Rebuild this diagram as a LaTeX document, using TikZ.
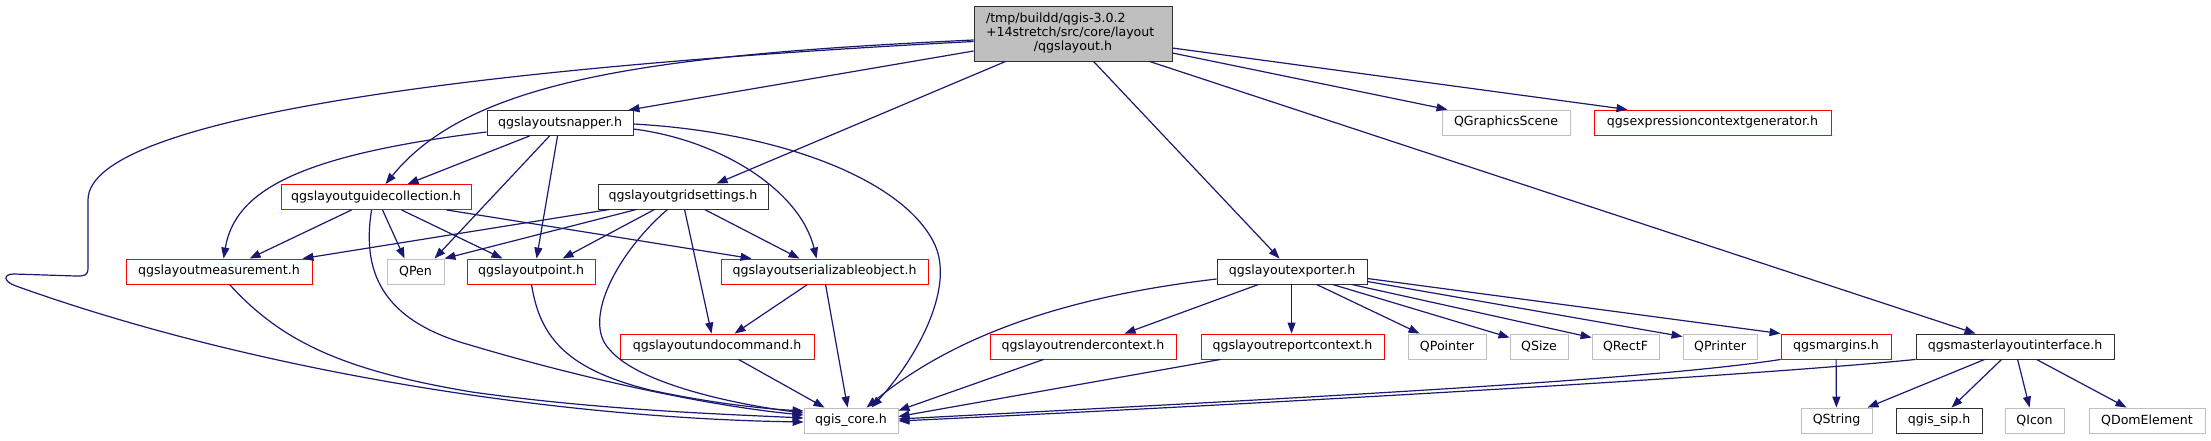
\documentclass[tikz,border=0pt]{standalone}
\usepackage{fontspec}
\setmainfont{DejaVu Sans}
\usetikzlibrary{arrows.meta}
\definecolor{edgec}{HTML}{191970}
\definecolor{extc}{HTML}{BFBFBF}
\definecolor{redc}{HTML}{FF0000}
\definecolor{darkb}{HTML}{303030}
\begin{document}
\begin{tikzpicture}[x=1pt,y=-1pt,
  box/.style={draw, minimum height=25pt, inner sep=0pt, line width=0.9pt,
    font=\fontsize{12.6}{14}\selectfont, fill=white},
  blackbox/.style={box, draw=darkb},
  redbox/.style={box, draw=redc},
  extbox/.style={box, draw=extc},
  mainbox/.style={box, draw=darkb, fill=extc},
  edge/.style={draw=edgec, line width=1.2pt, -{Triangle[length=11pt,width=8pt]}}
]
\useasboundingbox (0,0) rectangle (2211,440);

% nodes
\node[mainbox, minimum width=198pt, minimum height=55pt, align=center] (main) at (1073,33.5)
  {\makebox[174pt][l]{/tmp/buildd/qgis-3.0.2}\\\makebox[174pt][l]{+14stretch/src/core/layout}\\/qgslayout.h};
\node[blackbox, minimum width=146pt] (snapper) at (560,123) {qgslayoutsnapper.h};
\node[extbox, minimum width=128pt] (qgs) at (1506,122.5) {QGraphicsScene};
\node[redbox, minimum width=237pt] (expr) at (1712.5,122.5) {qgsexpressioncontextgenerator.h};
\node[redbox, minimum width=190pt] (guide) at (376,197) {qgslayoutguidecollection.h};
\node[blackbox, minimum width=170pt] (grid) at (683,196.5) {qgslayoutgridsettings.h};
\node[redbox, minimum width=186pt] (meas) at (219,271.5) {qgslayoutmeasurement.h};
\node[extbox, minimum width=57pt] (qpen) at (415.5,271.5) {QPen};
\node[redbox, minimum width=128pt] (point) at (531,271.5) {qgslayoutpoint.h};
\node[redbox, minimum width=207pt] (serial) at (824.5,271.5) {qgslayoutserializableobject.h};
\node[blackbox, minimum width=150pt] (exporter) at (1292,271.5) {qgslayoutexporter.h};
\node[redbox, minimum width=194pt] (undo) at (717,346.5) {qgslayoutundocommand.h};
\node[redbox, minimum width=186pt] (render) at (1083,346.5) {qgslayoutrendercontext.h};
\node[redbox, minimum width=183pt] (report) at (1292.5,346.5) {qgslayoutreportcontext.h};
\node[extbox, minimum width=78pt] (qpointer) at (1447,346.5) {QPointer};
\node[extbox, minimum width=58pt] (qsize) at (1539,346.5) {QSize};
\node[extbox, minimum width=67pt] (qrectf) at (1625.5,346.5) {QRectF};
\node[extbox, minimum width=74pt] (qprinter) at (1720,346.5) {QPrinter};
\node[redbox, minimum width=110pt] (margins) at (1836,346.5) {qgsmargins.h};
\node[blackbox, minimum width=198pt] (master) at (2015,346.5) {qgsmasterlayoutinterface.h};
\node[extbox, minimum width=94pt] (qgiscore) at (851,420.5) {qgis\_core.h};
\node[extbox, minimum width=71pt] (qstring) at (1836.5,420.5) {QString};
\node[blackbox, minimum width=86pt] (sip) at (1939,420.5) {qgis\_sip.h};
\node[extbox, minimum width=59pt] (qicon) at (2034.5,420.5) {QIcon};
\node[extbox, minimum width=116pt] (qdom) at (2147,420.5) {QDomElement};

% edges from main
\draw[edge] ([yshift=-8pt]main.west) .. controls (500,66) and (88,115) .. (88,200) -- (88,268)
  .. controls (88,276) and (84,276) .. (76,276) -- (14,274) .. controls (2,274) and (4,282) .. (16,286)
  .. controls (250,370) and (550,418) .. ([yshift=-1.5pt]qgiscore.west);
\draw[edge] ([yshift=-6.5pt]main.west) .. controls (650,55) and (470,80) .. ([xshift=105pt]guide.north west);
\draw[edge] ([yshift=-17.5pt]main.west) -- ([xshift=-5pt]snapper.north east);
\draw[edge] ([xshift=32pt]main.south west) -- ([xshift=119pt]grid.north west);
\draw[edge] ([xshift=120pt]main.south west) -- ([xshift=63pt]exporter.north west);
\draw[edge] ([yshift=-19.5pt]main.east) -- ([xshift=6pt]qgs.north west);
\draw[edge] ([yshift=-14.5pt]main.east) -- ([xshift=34pt]expr.north west);
\draw[edge] ([xshift=176pt]main.south west) -- ([xshift=60pt]master.north west);

% snapper
\draw[edge] ([xshift=43pt]snapper.south west) -- ([xshift=127pt]guide.north west);
\draw[edge] ([yshift=-9pt]snapper.west) .. controls (300,155) and (235,190) .. ([xshift=98pt]meas.north west);
\draw[edge] ([xshift=63pt]snapper.south west) -- ([xshift=48pt]qpen.north west);
\draw[edge] ([xshift=71pt]snapper.south west) -- ([xshift=70pt]point.north west);
\draw[edge] ([yshift=-6pt]snapper.east) .. controls (720,140) and (800,190) .. ([xshift=96pt]serial.north west);
\draw[edge] ([yshift=-1pt]snapper.east) .. controls (780,132) and (905,180) .. (935,245)
  .. controls (955,290) and (915,360) .. ([xshift=68pt]qgiscore.north west);

% guide collection
\draw[edge] ([xshift=71pt]guide.south west) -- ([xshift=124pt]meas.north west);
\draw[edge] ([xshift=102pt]guide.south west) -- ([xshift=18pt]qpen.north west);
\draw[edge] ([xshift=121pt]guide.south west) -- ([xshift=36pt]point.north west);
\draw[edge] ([xshift=166pt]guide.south west) -- ([xshift=31pt]serial.north west);
\draw[edge] ([xshift=91pt]guide.south west) .. controls (362,270) and (380,320) .. (470,345)
  .. controls (570,375) and (700,405) .. ([yshift=5.5pt]qgiscore.west);

% grid settings
\draw[edge] ([xshift=12pt]grid.south west) -- ([xshift=-10pt]meas.north east);
\draw[edge] ([xshift=39pt]grid.south west) -- (qpen.north east);
\draw[edge] ([xshift=57pt]grid.south west) -- ([xshift=96pt]point.north west);
\draw[edge] ([xshift=107pt]grid.south west) -- ([xshift=79pt]serial.north west);
\draw[edge] ([xshift=87pt]grid.south west) -- ([xshift=92pt]undo.north west);
\draw[edge] ([xshift=70pt]grid.south west) .. controls (620,250) and (580,320) .. (610,350)
  .. controls (640,385) and (740,405) .. ([yshift=7.5pt]qgiscore.west);

% measurement, point
\draw[edge] ([xshift=104pt]meas.south west) .. controls (280,340) and (340,370) .. (472,392)
  .. controls (600,410) and (720,414) .. ([yshift=2.5pt]qgiscore.west);
\draw[edge] ([xshift=65pt]point.south west) .. controls (540,340) and (570,370) .. (650,390)
  .. controls (720,405) and (770,409) .. ([yshift=9.5pt]qgiscore.west);

% serializable, undo
\draw[edge] ([xshift=87pt]serial.south west) -- ([xshift=115pt]undo.north west);
\draw[edge] ([xshift=105pt]serial.south west) -- ([xshift=44pt]qgiscore.north west);
\draw[edge] ([xshift=119pt]undo.south west) -- ([xshift=21pt]qgiscore.north west);

% exporter
\draw[edge] ([yshift=-7.5pt]exporter.west) .. controls (1080,295) and (960,330) .. ([xshift=63pt]qgiscore.north west);
\draw[edge] ([xshift=42pt]exporter.south west) -- ([xshift=135pt]render.north west);
\draw[edge] ([xshift=75pt]exporter.south west) -- ([xshift=91pt]report.north west);
\draw[edge] ([xshift=100pt]exporter.south west) -- ([xshift=12pt]qpointer.north west);
\draw[edge] ([xshift=116pt]exporter.south west) -- ([yshift=-4pt]qsize.north west);
\draw[edge] ([xshift=135pt]exporter.south west) -- ([yshift=-4pt]qrectf.north west);
\draw[edge] ([yshift=-10pt]exporter.east) -- ([yshift=-3pt]qprinter.north west);
\draw[edge] ([yshift=-7pt]exporter.east) -- (margins.north west);

% render, report
\draw[edge] ([xshift=54pt]render.south west) -- ([yshift=-3pt]qgiscore.north east);
\draw[edge] ([xshift=20pt]report.south west) -- ([yshift=4pt]qgiscore.east);

% margins, master
\draw[edge] (margins.south west) .. controls (1650,380) and (1300,398) .. ([yshift=1.5pt]qgiscore.east);
\draw[edge] (margins) -- (qstring);
\draw[edge] (master.south west) .. controls (1750,376) and (1300,402) .. ([yshift=-0.5pt]qgiscore.east);
\draw[edge] ([xshift=69pt]master.south west) -- ([xshift=-5pt]qstring.north east);
\draw[edge] ([xshift=86pt]master.south west) -- ([xshift=56pt]sip.north west);
\draw[edge] ([xshift=102pt]master.south west) -- ([xshift=25pt]qicon.north west);
\draw[edge] ([xshift=121pt]master.south west) -- ([xshift=38pt]qdom.north west);
\end{tikzpicture}
\end{document}
